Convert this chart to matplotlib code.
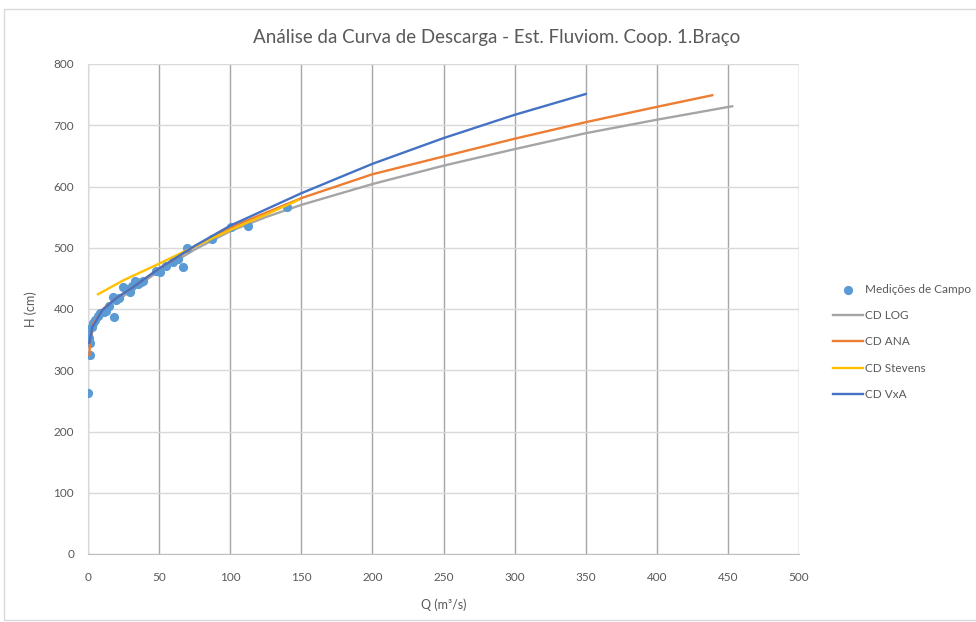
import matplotlib
matplotlib.use("Agg")
import matplotlib.pyplot as plt
from matplotlib.patches import Rectangle

# field measurements (Q m3/s, H cm)
MED_Q = [0.3, 1.2, 1.5, 1.0, 0.3, 0.2, 1.0, 2.5, 3.5, 5, 7, 8.5, 11, 13, 15, 17.6,
         18.5, 20, 22, 24.6, 27, 29.5, 31, 33, 35, 37, 39, 48, 50.6, 55, 60, 63, 67,
         69.6, 87, 100.6, 112.5, 140]
MED_H = [263, 325, 345, 352, 358, 363, 367, 370, 377, 382, 388, 393, 395, 397, 405, 420,
         387, 415, 418, 436, 432, 427, 438, 446, 441, 444, 446, 462, 460, 470, 477, 481, 468,
         499, 515, 534, 536, 566]

# rating curves
LOG_Q = [20, 30, 50, 75, 100, 125, 150, 200, 250, 300, 350, 400, 453]
LOG_H = [412, 430, 462, 497, 527, 550, 570, 604, 634, 661, 687, 709, 731]

ANA_Q = [1, 1.5, 4, 11, 20, 30, 50, 75, 100, 150, 200, 250, 300, 350, 400, 439]
ANA_H = [325, 349, 377, 401, 418, 433, 466, 502, 533, 581, 620, 649, 678, 705, 730, 749]

STE_Q = [7, 25, 50, 75, 100, 125, 148]
STE_H = [424, 447, 474, 502, 529, 554, 578]

VXA_Q = [1, 3, 10, 20, 30, 50, 75, 100, 150, 200, 250, 300, 350]
VXA_H = [345, 370, 398, 418, 433, 466, 503, 536, 589, 637, 679, 717, 751]

X_TICKS = list(range(0, 501, 50))
Y_TICKS = list(range(0, 801, 100))

C_MED, C_LOG, C_ANA, C_STE, C_VXA = "#5B9BD5", "#A5A5A5", "#ED7D31", "#FFC000", "#4472C4"
TXT = "#595959"

plt.rcParams["font.family"] = ["Lato", "DejaVu Sans"]

fig = plt.figure(figsize=(9.76, 6.22), dpi=100, facecolor="white")
fig.patches.append(Rectangle((4 / 976, 2 / 622), 1.0, 611 / 622, transform=fig.transFigure,
                             fill=False, edgecolor="#D9D9D9", lw=1.0))
ax = fig.add_axes([88 / 976, 1 - 554 / 622, (799 - 88) / 976, (554 - 64) / 622])

ax.scatter(MED_Q, MED_H, s=44, color=C_MED, zorder=3, label="Medições de Campo", linewidths=0)
ax.plot(LOG_Q, LOG_H, color=C_LOG, lw=1.7, zorder=2.5, label="CD LOG")
ax.plot(ANA_Q, ANA_H, color=C_ANA, lw=1.7, zorder=4, label="CD ANA")
ax.plot(STE_Q, STE_H, color=C_STE, lw=1.7, zorder=4, label="CD Stevens")
ax.plot(VXA_Q, VXA_H, color=C_VXA, lw=1.7, zorder=5, label="CD VxA")

ax.set_xlim(0, 500)
ax.set_ylim(0, 800)
ax.set_xticks(X_TICKS)
ax.set_yticks(Y_TICKS)
ax.tick_params(length=0, labelsize=8.5, colors=TXT)
ax.tick_params(axis="x", pad=13)
ax.tick_params(axis="y", pad=10)
ax.grid(axis="y", color="#D9D9D9", lw=1)
ax.grid(axis="x", color="#A6A6A6", lw=1)
ax.set_axisbelow(True)
for s in ("top", "right"):
    ax.spines[s].set_visible(False)
ax.spines["left"].set_color("#D9D9D9")
ax.spines["bottom"].set_color("#BFBFBF")

ax.set_xlabel("Q (m³/s)", fontsize=9, color=TXT, labelpad=11)
ax.set_ylabel("H (cm)", fontsize=9, color=TXT, labelpad=12)
fig.text(497 / 976, 1 - 37 / 622, "Análise da Curva de Descarga - Est. Fluviom. Coop. 1.Braço",
         ha="center", va="center", fontsize=13.5, color=TXT)

leg = ax.legend(loc="upper left", bbox_to_anchor=(828 / 976, 1 - 279 / 622),
                bbox_transform=fig.transFigure, frameon=False, fontsize=8.5,
                handlelength=2.6, handletextpad=0.1, labelspacing=1.3, borderaxespad=0)
for t in leg.get_texts():
    t.set_color(TXT)

fig.savefig("out.png", dpi=100, facecolor="white")
